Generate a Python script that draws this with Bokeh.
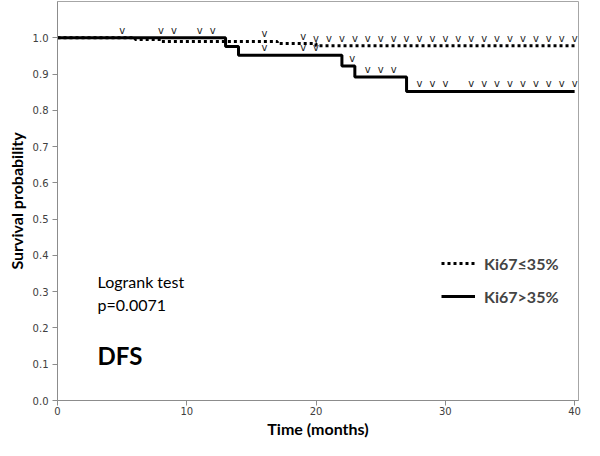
import numpy as np
from bokeh.plotting import figure
from bokeh.models import Range1d, FixedTicker, PrintfTickFormatter, Legend, LegendItem, Label
from bokeh.core.properties import value
from bokeh.embed import file_html
from bokeh.resources import INLINE

# ---- data ----
low_times = [0, 6, 8, 17, 20, 40]
low_surv = [1.0, 0.995, 0.99, 0.984, 0.978, 0.978]
low_censor = [16, 19, 20, 21, 22, 23, 24, 25, 26, 27, 28, 29, 30,
              31, 32, 33, 34, 35, 36, 37, 38, 39, 40]

high_times = [0, 13, 14, 22, 23, 27, 40]
high_surv = [1.0, 0.976, 0.952, 0.922, 0.892, 0.852, 0.852]
high_censor = [5, 8, 9, 11, 12, 16, 19, 20, 22.8, 24, 25, 26, 28, 29, 30,
               32, 33, 34, 35, 36, 37, 38, 39, 40]

x_ticks = [0, 10, 20, 30, 40]
y_ticks = [0.0, 0.1, 0.2, 0.3, 0.4, 0.5, 0.6, 0.7, 0.8, 0.9, 1.0]

low_label = "Ki67≤35%"
high_label = "Ki67>35%"


def step_at(times, surv, t):
    idx = np.searchsorted(np.array(times), np.array(t, dtype=float), side="right") - 1
    return list(np.array(surv)[idx])


p = figure(width=584, height=440, x_range=Range1d(0, 40.3), y_range=Range1d(0, 1.1),
           output_backend="svg", toolbar_location=None,
           min_border_left=57, min_border_right=6, min_border_top=1, min_border_bottom=30)
p.grid.visible = False
p.outline_line_color = "#a6a6a6"
p.background_fill_color = "white"

for ax in (p.xaxis, p.yaxis):
    ax.axis_line_color = "#8c8c8c"
    ax.major_tick_line_color = "#8c8c8c"
    ax.major_tick_out = 5
    ax.major_tick_in = 0
    ax.minor_tick_line_color = None
    ax.major_label_text_font = "DejaVu Sans"
    ax.major_label_text_font_size = "10px"
    ax.major_label_text_color = "#404040"
    ax.axis_label_text_font = "Lato"
    ax.axis_label_text_font_style = "bold"
    ax.axis_label_text_font_size = "16px"
    ax.axis_label_text_color = "black"

p.xaxis.ticker = FixedTicker(ticks=x_ticks)
p.yaxis.ticker = FixedTicker(ticks=y_ticks)
p.yaxis.formatter = PrintfTickFormatter(format="%.1f")
p.xaxis.major_label_standoff = 1
p.xaxis.axis_label_standoff = 1
p.yaxis.major_label_standoff = 4
p.yaxis.axis_label_standoff = 4
p.xaxis.axis_label = "Time (months)"
p.yaxis.axis_label = "Survival probability"

r_low = p.step(low_times, low_surv, mode="after", line_color="black", line_width=3,
               line_dash="3 3")
r_high = p.step(high_times, high_surv, mode="after", line_color="black", line_width=3)

# censor marks
p.text(x=low_censor, y=step_at(low_times, low_surv, low_censor), text=["v"] * len(low_censor),
       text_align="center", text_baseline="bottom", text_font=value("DejaVu Sans"),
       text_font_size="10px", text_color="#222222", y_offset=-2)
p.text(x=high_censor, y=step_at(high_times, high_surv, high_censor), text=["v"] * len(high_censor),
       text_align="center", text_baseline="bottom", text_font=value("DejaVu Sans"),
       text_font_size="10px", text_color="#222222", y_offset=-2)

legend = Legend(items=[LegendItem(label=low_label, renderers=[r_low]),
                       LegendItem(label=high_label, renderers=[r_high])],
                location=(384, 94), padding=0, margin=0, spacing=13,
                glyph_width=34, glyph_height=20, label_height=20, label_standoff=9,
                border_line_alpha=0, background_fill_alpha=0,
                label_text_font="Lato", label_text_font_style="bold",
                label_text_font_size="16px")
p.add_layout(legend)

p.add_layout(Label(x=3.1, y=0.328, text="Logrank test", text_baseline="middle",
                   text_font="Lato", text_font_size="16px", text_color="black"))
p.add_layout(Label(x=3.1, y=0.265, text="p=0.0071", text_baseline="middle",
                   text_font="Lato", text_font_size="16px", text_color="black"))
p.add_layout(Label(x=3.1, y=0.124, text="DFS", text_baseline="middle",
                   text_font="Lato", text_font_style="bold", text_font_size="24px",
                   text_color="black"))

open("out.html", "w").write(file_html(p, INLINE))
